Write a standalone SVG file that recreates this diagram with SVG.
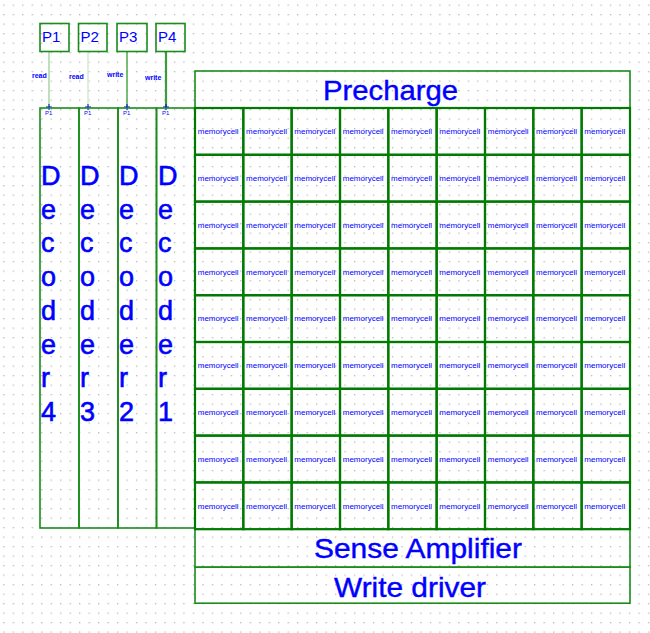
<svg xmlns="http://www.w3.org/2000/svg" width="650" height="633" viewBox="0 0 650 633">
<defs>
<pattern id="dots" x="3.2" y="4.5" width="9.48" height="9.5" patternUnits="userSpaceOnUse">
<rect x="0" y="0" width="1.3" height="1.3" fill="#b8b8b8"/>
</pattern>
<style>
text{font-family:"Liberation Sans",Arial,sans-serif;fill:#0000ff}
.box{fill:none;stroke:#1a8c1a;stroke-width:1.6}
.cell rect{fill:none;stroke:#007a00;stroke-width:2.2}
.cell text{font-size:8px;text-anchor:middle}
.big{font-size:28px;stroke:#0000ff;stroke-width:0.4}
.dec{font-size:27px;stroke:#0000ff;stroke-width:0.6}
.port{font-size:15px}
.lab{font-size:7px;font-weight:bold}
.pin{font-size:6px}
</style>
</defs>
<rect width="650" height="633" fill="#ffffff"/>
<rect width="650" height="633" fill="url(#dots)"/>

<g id="connectors" fill="none">
<line x1="49" y1="51" x2="49" y2="108" stroke="#a8d4a8" stroke-width="1.5"/>
<line x1="88" y1="51" x2="88" y2="108" stroke="#d4ead4" stroke-width="1.5"/>
<line x1="127" y1="51" x2="127" y2="108" stroke="#4ca84c" stroke-width="1.5"/>
<line x1="166" y1="51" x2="166" y2="108" stroke="#3c9c3c" stroke-width="2.2"/>
<text class="lab" x="32" y="78">read</text>
<text class="lab" x="69" y="79">read</text>
<text class="lab" x="107" y="77">write</text>
<text class="lab" x="145" y="80">write</text>
<path d="M46 107h6M49 104v6M85 107h6M88 104v6M124 107h6M127 104v6M163 107h6M166 104v6" stroke="#0000ff" stroke-width="1"/>
</g>

<g id="P1"><rect class="box" x="40" y="23.5" width="29" height="28"/><text class="port" x="42" y="42">P1</text></g>
<g id="P2"><rect class="box" x="78.5" y="23.5" width="28.5" height="28"/><text class="port" x="80.5" y="42">P2</text></g>
<g id="P3"><rect class="box" x="117" y="23.5" width="30" height="28"/><text class="port" x="119" y="42">P3</text></g>
<g id="P4"><rect class="box" x="156" y="23.5" width="29" height="28" stroke-width="2.2"/><text class="port" x="158" y="42">P4</text></g>

<g id="decoder4"><rect class="box" x="40" y="108" width="39" height="420"/>
<text class="pin" x="45" y="115">P1</text>
<text class="dec" x="41" y="185">D<tspan x="41" dy="33.7">e</tspan><tspan x="41" dy="33.7">c</tspan><tspan x="41" dy="33.7">o</tspan><tspan x="41" dy="33.7">d</tspan><tspan x="41" dy="33.7">e</tspan><tspan x="41" dy="33.7">r</tspan><tspan x="41" dy="33.7">4</tspan></text></g>
<g id="decoder3"><rect class="box" x="79" y="108" width="39" height="420"/>
<text class="pin" x="84" y="115">P1</text>
<text class="dec" x="80" y="185">D<tspan x="80" dy="33.7">e</tspan><tspan x="80" dy="33.7">c</tspan><tspan x="80" dy="33.7">o</tspan><tspan x="80" dy="33.7">d</tspan><tspan x="80" dy="33.7">e</tspan><tspan x="80" dy="33.7">r</tspan><tspan x="80" dy="33.7">3</tspan></text></g>
<g id="decoder2"><rect class="box" x="118" y="108" width="38.5" height="420"/>
<text class="pin" x="123" y="115">P1</text>
<text class="dec" x="119" y="185">D<tspan x="119" dy="33.7">e</tspan><tspan x="119" dy="33.7">c</tspan><tspan x="119" dy="33.7">o</tspan><tspan x="119" dy="33.7">d</tspan><tspan x="119" dy="33.7">e</tspan><tspan x="119" dy="33.7">r</tspan><tspan x="119" dy="33.7">2</tspan></text></g>
<g id="decoder1"><rect class="box" x="156.5" y="108" width="38.5" height="420"/>
<text class="pin" x="162" y="115">P1</text>
<text class="dec" x="158" y="185">D<tspan x="158" dy="33.7">e</tspan><tspan x="158" dy="33.7">c</tspan><tspan x="158" dy="33.7">o</tspan><tspan x="158" dy="33.7">d</tspan><tspan x="158" dy="33.7">e</tspan><tspan x="158" dy="33.7">r</tspan><tspan x="158" dy="33.7">1</tspan></text></g>

<g id="precharge"><rect class="box" x="195" y="71" width="435" height="37"/><text class="big" x="323" y="100" textLength="135" lengthAdjust="spacingAndGlyphs">Precharge</text></g>
<g id="sense_amplifier"><rect class="box" x="195" y="529.2" width="435" height="38"/><text class="big" x="314" y="558" textLength="208" lengthAdjust="spacingAndGlyphs">Sense Amplifier</text></g>
<g id="write_driver"><rect class="box" x="195" y="567.2" width="435" height="36"/><text class="big" x="334" y="597" textLength="152" lengthAdjust="spacingAndGlyphs">Write driver</text></g>

<g id="memory_array" class="cell">
<g id="cell_1_1"><rect x="195" y="108" width="48.3" height="46.8"/><text x="218.2" y="134.1">memorycell</text></g>
<g id="cell_1_2"><rect x="243.3" y="108" width="48.3" height="46.8"/><text x="266.5" y="134.1">memorycell</text></g>
<g id="cell_1_3"><rect x="291.7" y="108" width="48.3" height="46.8"/><text x="314.8" y="134.1">memorycell</text></g>
<g id="cell_1_4"><rect x="340" y="108" width="48.3" height="46.8"/><text x="363.2" y="134.1">memorycell</text></g>
<g id="cell_1_5"><rect x="388.3" y="108" width="48.3" height="46.8"/><text x="411.5" y="134.1">memorycell</text></g>
<g id="cell_1_6"><rect x="436.7" y="108" width="48.3" height="46.8"/><text x="459.8" y="134.1">memorycell</text></g>
<g id="cell_1_7"><rect x="485" y="108" width="48.3" height="46.8"/><text x="508.2" y="134.1">memorycell</text></g>
<g id="cell_1_8"><rect x="533.3" y="108" width="48.3" height="46.8"/><text x="556.5" y="134.1">memorycell</text></g>
<g id="cell_1_9"><rect x="581.7" y="108" width="48.3" height="46.8"/><text x="604.8" y="134.1">memorycell</text></g>

<g id="cell_2_1"><rect x="195" y="154.8" width="48.3" height="46.8"/><text x="218.2" y="180.9">memorycell</text></g>
<g id="cell_2_2"><rect x="243.3" y="154.8" width="48.3" height="46.8"/><text x="266.5" y="180.9">memorycell</text></g>
<g id="cell_2_3"><rect x="291.7" y="154.8" width="48.3" height="46.8"/><text x="314.8" y="180.9">memorycell</text></g>
<g id="cell_2_4"><rect x="340" y="154.8" width="48.3" height="46.8"/><text x="363.2" y="180.9">memorycell</text></g>
<g id="cell_2_5"><rect x="388.3" y="154.8" width="48.3" height="46.8"/><text x="411.5" y="180.9">memorycell</text></g>
<g id="cell_2_6"><rect x="436.7" y="154.8" width="48.3" height="46.8"/><text x="459.8" y="180.9">memorycell</text></g>
<g id="cell_2_7"><rect x="485" y="154.8" width="48.3" height="46.8"/><text x="508.2" y="180.9">memorycell</text></g>
<g id="cell_2_8"><rect x="533.3" y="154.8" width="48.3" height="46.8"/><text x="556.5" y="180.9">memorycell</text></g>
<g id="cell_2_9"><rect x="581.7" y="154.8" width="48.3" height="46.8"/><text x="604.8" y="180.9">memorycell</text></g>

<g id="cell_3_1"><rect x="195" y="201.6" width="48.3" height="46.8"/><text x="218.2" y="227.7">memorycell</text></g>
<g id="cell_3_2"><rect x="243.3" y="201.6" width="48.3" height="46.8"/><text x="266.5" y="227.7">memorycell</text></g>
<g id="cell_3_3"><rect x="291.7" y="201.6" width="48.3" height="46.8"/><text x="314.8" y="227.7">memorycell</text></g>
<g id="cell_3_4"><rect x="340" y="201.6" width="48.3" height="46.8"/><text x="363.2" y="227.7">memorycell</text></g>
<g id="cell_3_5"><rect x="388.3" y="201.6" width="48.3" height="46.8"/><text x="411.5" y="227.7">memorycell</text></g>
<g id="cell_3_6"><rect x="436.7" y="201.6" width="48.3" height="46.8"/><text x="459.8" y="227.7">memorycell</text></g>
<g id="cell_3_7"><rect x="485" y="201.6" width="48.3" height="46.8"/><text x="508.2" y="227.7">memorycell</text></g>
<g id="cell_3_8"><rect x="533.3" y="201.6" width="48.3" height="46.8"/><text x="556.5" y="227.7">memorycell</text></g>
<g id="cell_3_9"><rect x="581.7" y="201.6" width="48.3" height="46.8"/><text x="604.8" y="227.7">memorycell</text></g>

<g id="cell_4_1"><rect x="195" y="248.4" width="48.3" height="46.8"/><text x="218.2" y="274.5">memorycell</text></g>
<g id="cell_4_2"><rect x="243.3" y="248.4" width="48.3" height="46.8"/><text x="266.5" y="274.5">memorycell</text></g>
<g id="cell_4_3"><rect x="291.7" y="248.4" width="48.3" height="46.8"/><text x="314.8" y="274.5">memorycell</text></g>
<g id="cell_4_4"><rect x="340" y="248.4" width="48.3" height="46.8"/><text x="363.2" y="274.5">memorycell</text></g>
<g id="cell_4_5"><rect x="388.3" y="248.4" width="48.3" height="46.8"/><text x="411.5" y="274.5">memorycell</text></g>
<g id="cell_4_6"><rect x="436.7" y="248.4" width="48.3" height="46.8"/><text x="459.8" y="274.5">memorycell</text></g>
<g id="cell_4_7"><rect x="485" y="248.4" width="48.3" height="46.8"/><text x="508.2" y="274.5">memorycell</text></g>
<g id="cell_4_8"><rect x="533.3" y="248.4" width="48.3" height="46.8"/><text x="556.5" y="274.5">memorycell</text></g>
<g id="cell_4_9"><rect x="581.7" y="248.4" width="48.3" height="46.8"/><text x="604.8" y="274.5">memorycell</text></g>

<g id="cell_5_1"><rect x="195" y="295.2" width="48.3" height="46.8"/><text x="218.2" y="321.3">memorycell</text></g>
<g id="cell_5_2"><rect x="243.3" y="295.2" width="48.3" height="46.8"/><text x="266.5" y="321.3">memorycell</text></g>
<g id="cell_5_3"><rect x="291.7" y="295.2" width="48.3" height="46.8"/><text x="314.8" y="321.3">memorycell</text></g>
<g id="cell_5_4"><rect x="340" y="295.2" width="48.3" height="46.8"/><text x="363.2" y="321.3">memorycell</text></g>
<g id="cell_5_5"><rect x="388.3" y="295.2" width="48.3" height="46.8"/><text x="411.5" y="321.3">memorycell</text></g>
<g id="cell_5_6"><rect x="436.7" y="295.2" width="48.3" height="46.8"/><text x="459.8" y="321.3">memorycell</text></g>
<g id="cell_5_7"><rect x="485" y="295.2" width="48.3" height="46.8"/><text x="508.2" y="321.3">memorycell</text></g>
<g id="cell_5_8"><rect x="533.3" y="295.2" width="48.3" height="46.8"/><text x="556.5" y="321.3">memorycell</text></g>
<g id="cell_5_9"><rect x="581.7" y="295.2" width="48.3" height="46.8"/><text x="604.8" y="321.3">memorycell</text></g>

<g id="cell_6_1"><rect x="195" y="342" width="48.3" height="46.8"/><text x="218.2" y="368.1">memorycell</text></g>
<g id="cell_6_2"><rect x="243.3" y="342" width="48.3" height="46.8"/><text x="266.5" y="368.1">memorycell</text></g>
<g id="cell_6_3"><rect x="291.7" y="342" width="48.3" height="46.8"/><text x="314.8" y="368.1">memorycell</text></g>
<g id="cell_6_4"><rect x="340" y="342" width="48.3" height="46.8"/><text x="363.2" y="368.1">memorycell</text></g>
<g id="cell_6_5"><rect x="388.3" y="342" width="48.3" height="46.8"/><text x="411.5" y="368.1">memorycell</text></g>
<g id="cell_6_6"><rect x="436.7" y="342" width="48.3" height="46.8"/><text x="459.8" y="368.1">memorycell</text></g>
<g id="cell_6_7"><rect x="485" y="342" width="48.3" height="46.8"/><text x="508.2" y="368.1">memorycell</text></g>
<g id="cell_6_8"><rect x="533.3" y="342" width="48.3" height="46.8"/><text x="556.5" y="368.1">memorycell</text></g>
<g id="cell_6_9"><rect x="581.7" y="342" width="48.3" height="46.8"/><text x="604.8" y="368.1">memorycell</text></g>

<g id="cell_7_1"><rect x="195" y="388.8" width="48.3" height="46.8"/><text x="218.2" y="414.9">memorycell</text></g>
<g id="cell_7_2"><rect x="243.3" y="388.8" width="48.3" height="46.8"/><text x="266.5" y="414.9">memorycell</text></g>
<g id="cell_7_3"><rect x="291.7" y="388.8" width="48.3" height="46.8"/><text x="314.8" y="414.9">memorycell</text></g>
<g id="cell_7_4"><rect x="340" y="388.8" width="48.3" height="46.8"/><text x="363.2" y="414.9">memorycell</text></g>
<g id="cell_7_5"><rect x="388.3" y="388.8" width="48.3" height="46.8"/><text x="411.5" y="414.9">memorycell</text></g>
<g id="cell_7_6"><rect x="436.7" y="388.8" width="48.3" height="46.8"/><text x="459.8" y="414.9">memorycell</text></g>
<g id="cell_7_7"><rect x="485" y="388.8" width="48.3" height="46.8"/><text x="508.2" y="414.9">memorycell</text></g>
<g id="cell_7_8"><rect x="533.3" y="388.8" width="48.3" height="46.8"/><text x="556.5" y="414.9">memorycell</text></g>
<g id="cell_7_9"><rect x="581.7" y="388.8" width="48.3" height="46.8"/><text x="604.8" y="414.9">memorycell</text></g>

<g id="cell_8_1"><rect x="195" y="435.6" width="48.3" height="46.8"/><text x="218.2" y="461.7">memorycell</text></g>
<g id="cell_8_2"><rect x="243.3" y="435.6" width="48.3" height="46.8"/><text x="266.5" y="461.7">memorycell</text></g>
<g id="cell_8_3"><rect x="291.7" y="435.6" width="48.3" height="46.8"/><text x="314.8" y="461.7">memorycell</text></g>
<g id="cell_8_4"><rect x="340" y="435.6" width="48.3" height="46.8"/><text x="363.2" y="461.7">memorycell</text></g>
<g id="cell_8_5"><rect x="388.3" y="435.6" width="48.3" height="46.8"/><text x="411.5" y="461.7">memorycell</text></g>
<g id="cell_8_6"><rect x="436.7" y="435.6" width="48.3" height="46.8"/><text x="459.8" y="461.7">memorycell</text></g>
<g id="cell_8_7"><rect x="485" y="435.6" width="48.3" height="46.8"/><text x="508.2" y="461.7">memorycell</text></g>
<g id="cell_8_8"><rect x="533.3" y="435.6" width="48.3" height="46.8"/><text x="556.5" y="461.7">memorycell</text></g>
<g id="cell_8_9"><rect x="581.7" y="435.6" width="48.3" height="46.8"/><text x="604.8" y="461.7">memorycell</text></g>

<g id="cell_9_1"><rect x="195" y="482.4" width="48.3" height="46.8"/><text x="218.2" y="508.5">memorycell</text></g>
<g id="cell_9_2"><rect x="243.3" y="482.4" width="48.3" height="46.8"/><text x="266.5" y="508.5">memorycell</text></g>
<g id="cell_9_3"><rect x="291.7" y="482.4" width="48.3" height="46.8"/><text x="314.8" y="508.5">memorycell</text></g>
<g id="cell_9_4"><rect x="340" y="482.4" width="48.3" height="46.8"/><text x="363.2" y="508.5">memorycell</text></g>
<g id="cell_9_5"><rect x="388.3" y="482.4" width="48.3" height="46.8"/><text x="411.5" y="508.5">memorycell</text></g>
<g id="cell_9_6"><rect x="436.7" y="482.4" width="48.3" height="46.8"/><text x="459.8" y="508.5">memorycell</text></g>
<g id="cell_9_7"><rect x="485" y="482.4" width="48.3" height="46.8"/><text x="508.2" y="508.5">memorycell</text></g>
<g id="cell_9_8"><rect x="533.3" y="482.4" width="48.3" height="46.8"/><text x="556.5" y="508.5">memorycell</text></g>
<g id="cell_9_9"><rect x="581.7" y="482.4" width="48.3" height="46.8"/><text x="604.8" y="508.5">memorycell</text></g>
</g>
</svg>
